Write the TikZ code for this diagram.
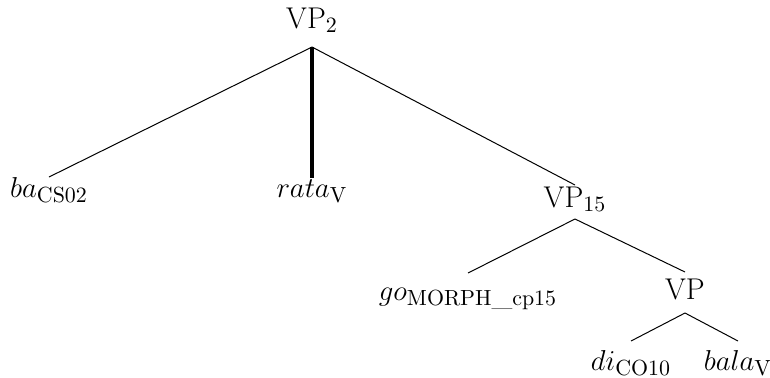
\documentclass[tikz,border=0pt]{standalone}
\begin{document}
\begin{tikzpicture}[x=0.5pt,y=-0.5pt,
  lbl/.style={inner sep=0pt, anchor=base, font=\fontsize{15}{18}\selectfont},
  edge/.style={line width=0.5pt},
  headedge/.style={line width=1.6pt}]
\useasboundingbox (0,0) rectangle (770,377);
\node[lbl] (vp2)  at (312,28)  {VP$_2$};
\node[lbl] (ba)   at (49,197)  {$ba_{\mathrm{CS02}}$};
\node[lbl] (rata) at (312,197) {$rata_{\mathrm{V}}$};
\node[lbl] (vp15) at (575,207) {VP$_{15}$};
\node[lbl] (go)   at (468,300) {$go_{\mathrm{MORPH\_cp15}}$};
\node[lbl] (vp)   at (685,299) {VP};
\node[lbl] (di)   at (631,370) {$di_{\mathrm{CO10}}$};
\node[lbl] (bala) at (738,370) {$bala_{\mathrm{V}}$};
\draw[edge] ([yshift=-9.5pt]vp2.base) -- ([yshift=10pt]ba.base);
\draw[headedge] ([yshift=-9.5pt]vp2.base) -- ([yshift=9.5pt]rata.base);
\draw[edge] ([yshift=-9.5pt]vp2.base) -- ([yshift=11pt]vp15.base);
\draw[edge] ([yshift=-6pt]vp15.base) -- ([yshift=13.5pt]go.base);
\draw[edge] ([yshift=-6pt]vp15.base) -- ([yshift=13.5pt]vp.base);
\draw[edge] ([yshift=-7pt]vp.base) -- ([yshift=14.5pt]di.base);
\draw[edge] ([yshift=-7pt]vp.base) -- ([yshift=14.5pt]bala.base);
\end{tikzpicture}
\end{document}
